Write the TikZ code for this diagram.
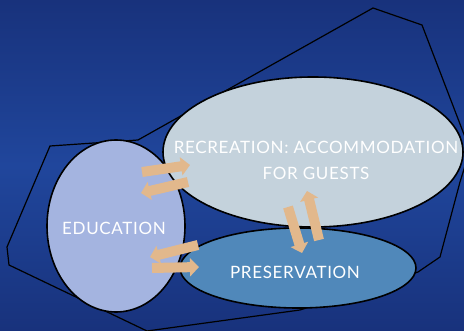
\documentclass[tikz,border=0pt]{standalone}
\usepackage{fontspec}
\setmainfont{Lato}[LetterSpace=4]
\usepackage{xcolor}
\usetikzlibrary{arrows.meta,shapes.geometric}
\definecolor{deepblue}{RGB}{32,70,156}
\definecolor{deepblueb}{RGB}{24,50,124}
\definecolor{recgrey}{RGB}{196,210,220}
\definecolor{edublue}{RGB}{164,180,224}
\definecolor{presblue}{RGB}{80,136,186}
\definecolor{tape}{RGB}{226,184,140}
\tikzset{
	blob/.style={
			ellipse, draw=black, line width=1.6pt, inner sep=0pt,
			text=white, align=center, font=\fontsize{17}{22}\selectfont
		},
	caption/.style={
			text=white, align=center, inner sep=0pt, font=\fontsize{17}{26}\selectfont
		},
	strip/.style={
			draw=tape, line width=10pt,
			-{Triangle[width=18pt, length=9pt]}
		}
}

\begin{document}
\begin{tikzpicture}[x=1pt, y=-1pt]
		\useasboundingbox (0, 0) rectangle (464, 331);
		\shade[top color=deepblueb, bottom color=deepblueb, middle color=deepblue]	(0, 0) rectangle (464, 331);

		\draw[black, line width=1.2pt]	(50, 146) -- (138, 140) -- (373, 8) -- (422, 25)
							-- (470, 150) -- (460, 182) -- (440, 257) -- (418, 272)
							-- (300, 310) -- (147, 331) -- (9, 265) -- (7, 247) -- cycle;

		\node[blob, fill=edublue, minimum width=138, minimum height=172]	(edu) at (116, 226) {};
		\node[blob, fill=presblue, minimum width=236, minimum height=80]	(pres) at (298, 268) {};
		\node[blob, fill=recgrey, minimum width=300, minimum height=150]	(rec) at (313, 152) {};

		\node[caption]	(edutext) at (114, 228) {EDUCATION};
		\node[caption]	(rectext) at (316, 160) {RECREATION: ACCOMMODATION\\ FOR GUESTS};
		\node[caption]	(prestext) at (295, 272) {PRESERVATION};

		\coordinate (er1) at (142, 172);	\coordinate (er2) at (190, 165);
		\coordinate (re1) at (188, 182);	\coordinate (re2) at (141, 193);
		\coordinate (pe1) at (198, 245);	\coordinate (pe2) at (150, 257);
		\coordinate (ep1) at (152, 268);	\coordinate (ep2) at (199, 267);
		\coordinate (rp1) at (288, 207);	\coordinate (rp2) at (302, 253);
		\coordinate (pr1) at (319, 240);	\coordinate (pr2) at (307, 191);

		\foreach \a/\b in {er1/er2, re1/re2, pe1/pe2, ep1/ep2, rp1/rp2, pr1/pr2} {
			\draw[strip]	(\a) to (\b);
		}
	\end{tikzpicture}
\end{document}
